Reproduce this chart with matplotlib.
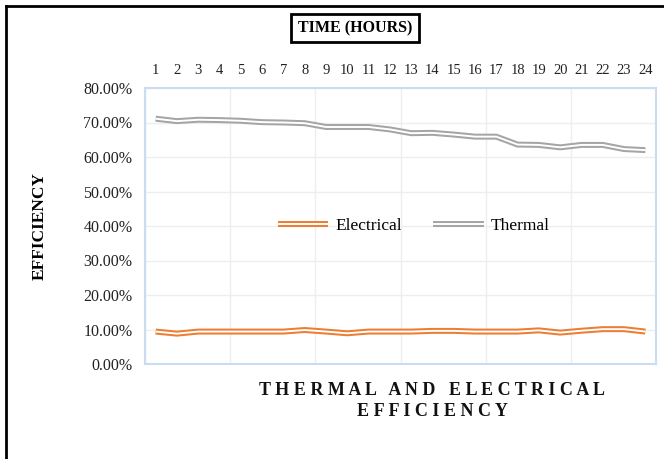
import matplotlib.pyplot as plt
from matplotlib.lines import Line2D
from matplotlib.legend_handler import HandlerTuple
from matplotlib.ticker import FuncFormatter, FixedLocator

hours = list(range(1, 25))
thermal = [71.1, 70.4, 70.8, 70.7, 70.5, 70.1, 70.0, 69.8, 68.7, 68.7, 68.7, 68.0,
           66.9, 67.0, 66.5, 65.9, 65.9, 63.6, 63.5, 62.8, 63.5, 63.5, 62.3, 62.0]
electrical = [9.4, 8.8, 9.4, 9.4, 9.4, 9.4, 9.4, 9.85, 9.4, 8.9, 9.4, 9.4,
              9.4, 9.6, 9.6, 9.4, 9.4, 9.4, 9.75, 9.1, 9.65, 10.1, 10.1, 9.4]
yticks = [0, 10, 20, 30, 40, 50, 60, 70, 80]

plt.rcParams['font.family'] = ['Liberation Serif', 'DejaVu Serif']

fig = plt.figure(figsize=(6.64, 4.59), dpi=100)
ax = fig.add_axes([145 / 664, 1 - 364 / 459, 511 / 664, 276 / 459])

orange = '#ED7D31'
grey = '#A5A5A5'
LW, LW_IN = 4.3, 1.4


def double_line(x, y, color):
    # compound line: thick coloured stroke with a thin white stroke on top
    ax.plot(x, y, color=color, lw=LW, solid_capstyle='butt', zorder=3)
    ax.plot(x, y, color='white', lw=LW_IN, solid_capstyle='butt', zorder=4)
    return (Line2D([], [], color=color, lw=LW, solid_capstyle='butt'),
            Line2D([], [], color='white', lw=LW_IN, solid_capstyle='butt'))


h_el = double_line(hours, electrical, orange)
h_th = double_line(hours, thermal, grey)

ax.set_xlim(0.5, 24.5)
ax.set_ylim(0, 80)
ax.xaxis.tick_top()
ax.set_xticks(hours)
ax.set_xticklabels([str(h) for h in hours], fontsize=10.5)
ax.xaxis.set_minor_locator(FixedLocator([0.5, 4.5, 8.5, 12.5, 16.5, 20.5, 24.5]))
ax.set_yticks(yticks)
ax.yaxis.set_major_formatter(FuncFormatter(lambda v, p: f'{v:.2f}%'))
ax.tick_params(axis='both', length=0, labelcolor='#222222')
ax.tick_params(axis='x', pad=8)
ax.tick_params(axis='y', labelsize=11.5, pad=9)
ax.tick_params(axis='x', which='minor', length=0)

ax.grid(axis='y', which='major', color='#EEEEEE', lw=1)
ax.grid(axis='x', which='minor', color='#EEEEEE', lw=1)
ax.grid(axis='x', which='major', visible=False)
ax.set_axisbelow(True)
for s in ax.spines.values():
    s.set_color('#C9DCF0')
    s.set_linewidth(1.5)

ax.legend([h_el, h_th], ['Electrical', 'Thermal'],
          handler_map={tuple: HandlerTuple(ndivide=1, pad=0)},
          loc='center', bbox_to_anchor=(0.526, 0.5), ncol=2, frameon=False,
          fontsize=12.5, handlelength=2.9, handletextpad=0.4, columnspacing=1.8)

ax.set_ylabel('EFFICIENCY', fontsize=12.5, fontweight='bold', labelpad=26)

fig.text(355 / 664, 1 - 28 / 459, 'TIME (HOURS)', ha='center', va='center',
         fontsize=11.5, fontweight='bold',
         bbox=dict(boxstyle='square,pad=0.4', fc='white', ec='black', lw=2))

fig.text(432 / 664, 1 - 401 / 459, 'T H E R M A L   A N D   E L E C T R I C A L\nE F F I C I E N C Y',
         ha='center', va='center', fontsize=13, fontweight='bold',
         linespacing=1.35, color='#111111')

# outer frame, left and top edges
fig.add_artist(Line2D([6 / 664, 6 / 664], [0, 1 - 6 / 459], color='black', lw=2, transform=fig.transFigure))
fig.add_artist(Line2D([6 / 664, 1], [1 - 6 / 459, 1 - 6 / 459], color='black', lw=2, transform=fig.transFigure))

fig.savefig('out.png', dpi=100)
